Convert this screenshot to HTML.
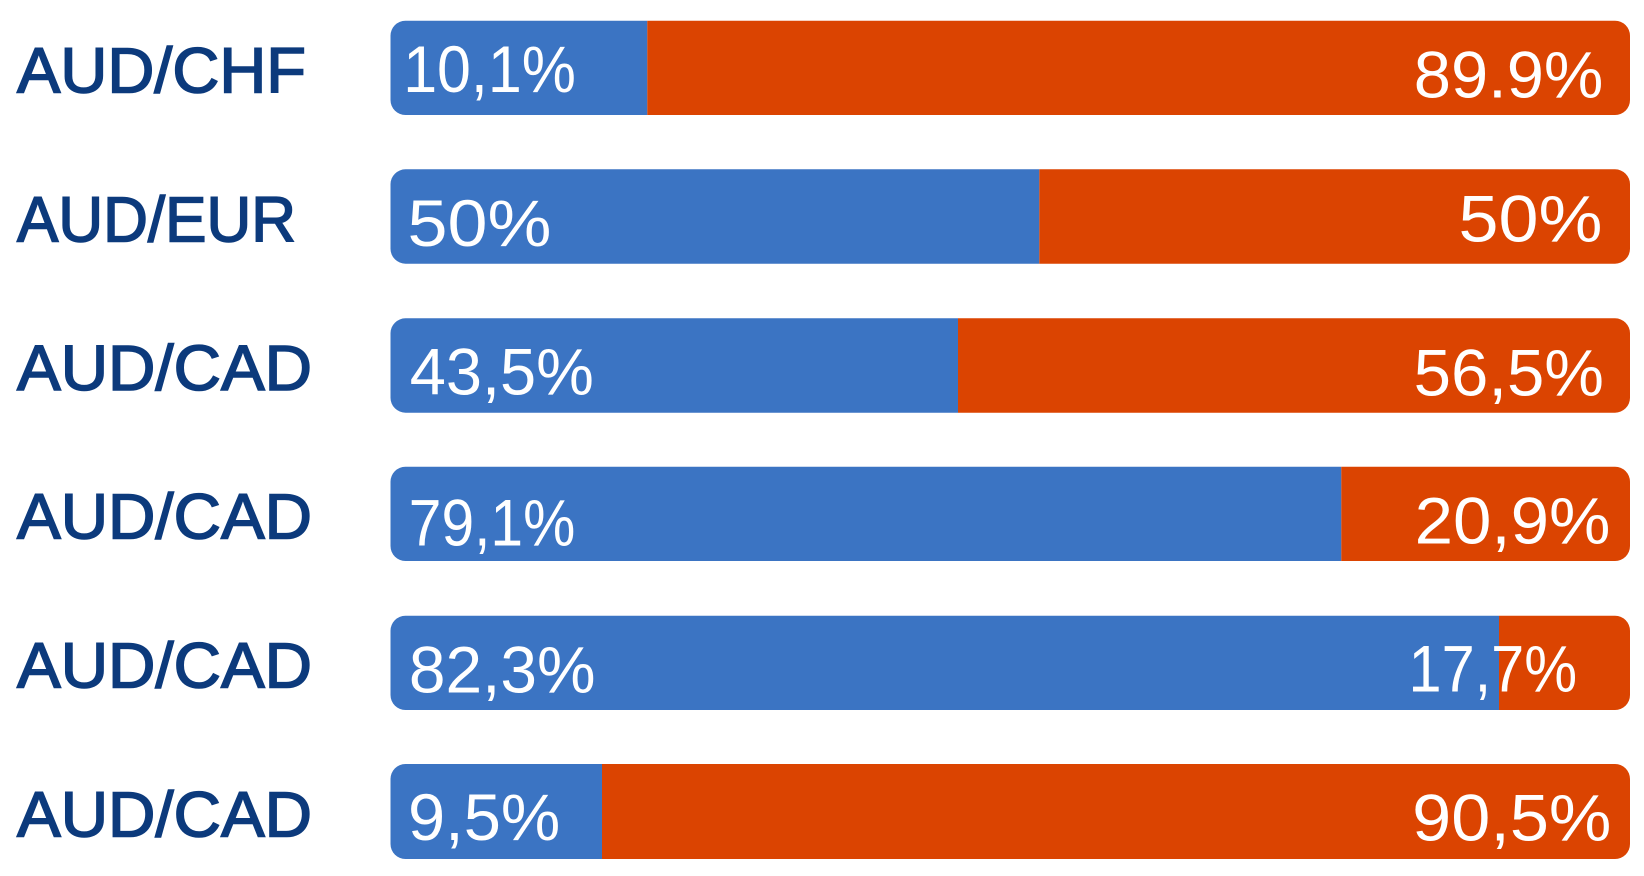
<!DOCTYPE html>
<html>
<head>
<meta charset="utf-8">
<style>
  html, body { margin: 0; padding: 0; background: #ffffff; }
  body { width: 1644px; height: 876px; overflow: hidden; }
  svg { display: block; }
  .lbl { font-family: "Liberation Sans", sans-serif; font-size: 64px; fill: #0c3a7c; stroke: #0c3a7c; stroke-width: 1.6px; }
  .pct { font-family: "Liberation Sans", sans-serif; font-size: 66px; fill: #ffffff; }
</style>
</head>
<body>
<svg width="1644" height="876" viewBox="0 0 1644 876" xmlns="http://www.w3.org/2000/svg">
  <defs>
    <clipPath id="c1"><rect x="390.5" y="20.7" width="1239.5" height="94.3" rx="15" ry="15"/></clipPath>
    <clipPath id="c2"><rect x="390.5" y="169.3" width="1239.5" height="94.4" rx="15" ry="15"/></clipPath>
    <clipPath id="c3"><rect x="390.5" y="318.3" width="1239.5" height="94.4" rx="15" ry="15"/></clipPath>
    <clipPath id="c4"><rect x="390.5" y="466.7" width="1239.5" height="94.3" rx="15" ry="15"/></clipPath>
    <clipPath id="c5"><rect x="390.5" y="615.7" width="1239.5" height="94.3" rx="15" ry="15"/></clipPath>
    <clipPath id="c6"><rect x="390.5" y="764" width="1239.5" height="95" rx="15" ry="15"/></clipPath>
  </defs>

  <!-- Row 1 -->
  <g clip-path="url(#c1)">
    <rect x="390" y="20" width="257.3" height="96" fill="#3b74c3"/>
    <rect x="647.3" y="20" width="983" height="96" fill="#db4401"/>
  </g>
  <text class="lbl" x="17" y="92.5" textLength="289" lengthAdjust="spacingAndGlyphs">AUD/CHF</text>
  <text class="pct" x="403.2" y="92" textLength="172.7" lengthAdjust="spacingAndGlyphs">10,1%</text>
  <text class="pct" x="1413.8" y="97.5" textLength="189.5" lengthAdjust="spacingAndGlyphs">89.9%</text>

  <!-- Row 2 -->
  <g clip-path="url(#c2)">
    <rect x="390" y="168" width="649.3" height="97" fill="#3b74c3"/>
    <rect x="1039.3" y="168" width="591" height="97" fill="#db4401"/>
  </g>
  <text class="lbl" x="17" y="241.5" textLength="279" lengthAdjust="spacingAndGlyphs">AUD/EUR</text>
  <text class="pct" x="407.5" y="246" textLength="143.9" lengthAdjust="spacingAndGlyphs">50%</text>
  <text class="pct" x="1458.5" y="241.5" textLength="143.9" lengthAdjust="spacingAndGlyphs">50%</text>

  <!-- Row 3 -->
  <g clip-path="url(#c3)">
    <rect x="390" y="317" width="568" height="97" fill="#3b74c3"/>
    <rect x="958" y="317" width="673" height="97" fill="#db4401"/>
  </g>
  <text class="lbl" x="17" y="390" textLength="295" lengthAdjust="spacingAndGlyphs">AUD/CAD</text>
  <text class="pct" x="409.8" y="394.5" textLength="184.1" lengthAdjust="spacingAndGlyphs">43,5%</text>
  <text class="pct" x="1413.7" y="395.5" textLength="190.3" lengthAdjust="spacingAndGlyphs">56,5%</text>

  <!-- Row 4 -->
  <g clip-path="url(#c4)">
    <rect x="390" y="465" width="951.3" height="97" fill="#3b74c3"/>
    <rect x="1341.3" y="465" width="290" height="97" fill="#db4401"/>
  </g>
  <text class="lbl" x="17" y="538.5" textLength="295" lengthAdjust="spacingAndGlyphs">AUD/CAD</text>
  <text class="pct" x="408.8" y="545.5" textLength="166.5" lengthAdjust="spacingAndGlyphs">79,1%</text>
  <text class="pct" x="1414.6" y="543.5" textLength="195.8" lengthAdjust="spacingAndGlyphs">20,9%</text>

  <!-- Row 5 -->
  <g clip-path="url(#c5)">
    <rect x="390" y="614" width="1109" height="97" fill="#3b74c3"/>
    <rect x="1499" y="614" width="132" height="97" fill="#db4401"/>
  </g>
  <text class="lbl" x="17" y="687.5" textLength="295" lengthAdjust="spacingAndGlyphs">AUD/CAD</text>
  <text class="pct" x="408.9" y="692.5" textLength="186.7" lengthAdjust="spacingAndGlyphs">82,3%</text>
  <text class="pct" x="1408.5" y="691.5" textLength="168.6" lengthAdjust="spacingAndGlyphs">17,7%</text>

  <!-- Row 6 -->
  <g clip-path="url(#c6)">
    <rect x="390" y="763" width="212" height="97" fill="#3b74c3"/>
    <rect x="602" y="763" width="1029" height="97" fill="#db4401"/>
  </g>
  <text class="lbl" x="17" y="836.5" textLength="295" lengthAdjust="spacingAndGlyphs">AUD/CAD</text>
  <text class="pct" x="408" y="840" textLength="152.2" lengthAdjust="spacingAndGlyphs">9,5%</text>
  <text class="pct" x="1412.2" y="840.5" textLength="199.2" lengthAdjust="spacingAndGlyphs">90,5%</text>
</svg>
</body>
</html>
